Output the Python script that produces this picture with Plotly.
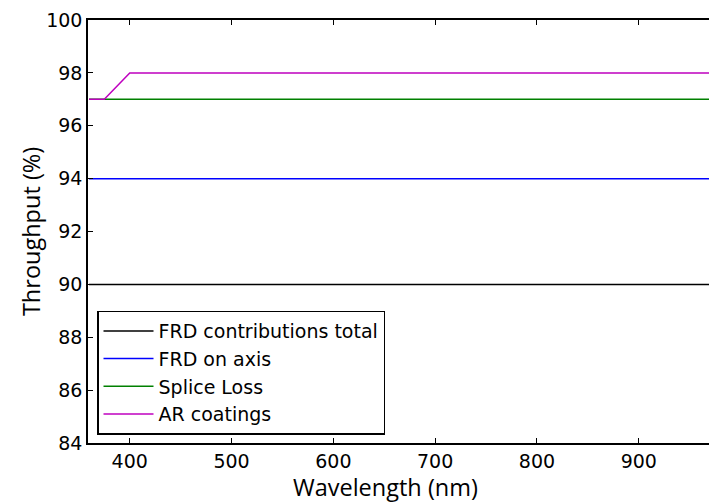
import plotly.graph_objects as go

wavelength = [360, 375, 400, 500, 600, 700, 800, 900, 1000]
frd_total = [90, 90, 90, 90, 90, 90, 90, 90, 90]
frd_axis = [94, 94, 94, 94, 94, 94, 94, 94, 94]
splice_loss = [97, 97, 97, 97, 97, 97, 97, 97, 97]
ar_coatings = [97, 97, 98, 98, 98, 98, 98, 98, 98]

series = [
    ("FRD contributions total", frd_total, "#000000"),
    ("FRD on axis", frd_axis, "#0000ff"),
    ("Splice Loss", splice_loss, "#008000"),
    ("AR coatings", ar_coatings, "#bf00bf"),
]

font = "DejaVu Sans"
title_font = "Open Sans"
fig = go.Figure()
for name, vals, col in series:
    fig.add_trace(go.Scatter(x=wavelength, y=vals, mode="lines", name=name,
                             line=dict(color=col, width=1.5)))

fig.update_layout(
    width=709, height=504,
    margin=dict(l=88, r=0, t=20, b=61, autoexpand=False),
    paper_bgcolor="white", plot_bgcolor="white",
    font=dict(family=font, size=19, color="black"),
    showlegend=True,
    legend=dict(x=0.0145, y=0.02, xanchor="left", yanchor="bottom",
                bordercolor="black", borderwidth=1.5, bgcolor="white",
                font=dict(size=19, family=font), tracegroupgap=0,
                itemwidth=50),
    annotations=[
        dict(text="Wavelength (nm)", xref="paper", yref="paper",
             x=0.4783, y=-0.104, xanchor="center", yanchor="middle",
             showarrow=False, font=dict(family=title_font, size=23.5)),
        dict(text="Throughput (%)", xref="paper", yref="paper",
             x=-0.0918, y=0.501, xanchor="center", yanchor="middle",
             textangle=-90, showarrow=False,
             font=dict(family=title_font, size=23.5)),
    ],
)
fig.update_xaxes(range=[359, 969], tickvals=[400, 500, 600, 700, 800, 900],
                 ticks="inside", ticklen=5, tickcolor="black", showgrid=False,
                 zeroline=False, showline=True, linecolor="black", linewidth=1.5,
                 mirror="ticks", automargin=False)
fig.update_yaxes(range=[84, 100], tickvals=[84, 86, 88, 90, 92, 94, 96, 98, 100],
                 ticks="inside", ticklen=5, tickcolor="black", showgrid=False,
                 zeroline=False, showline=True, linecolor="black", linewidth=1.5,
                 automargin=False)

fig.write_html(
    "out.html",
    config={"displayModeBar": False},
    post_script="document.body.style.margin='0';"
                "document.documentElement.style.overflow='hidden';",
)
